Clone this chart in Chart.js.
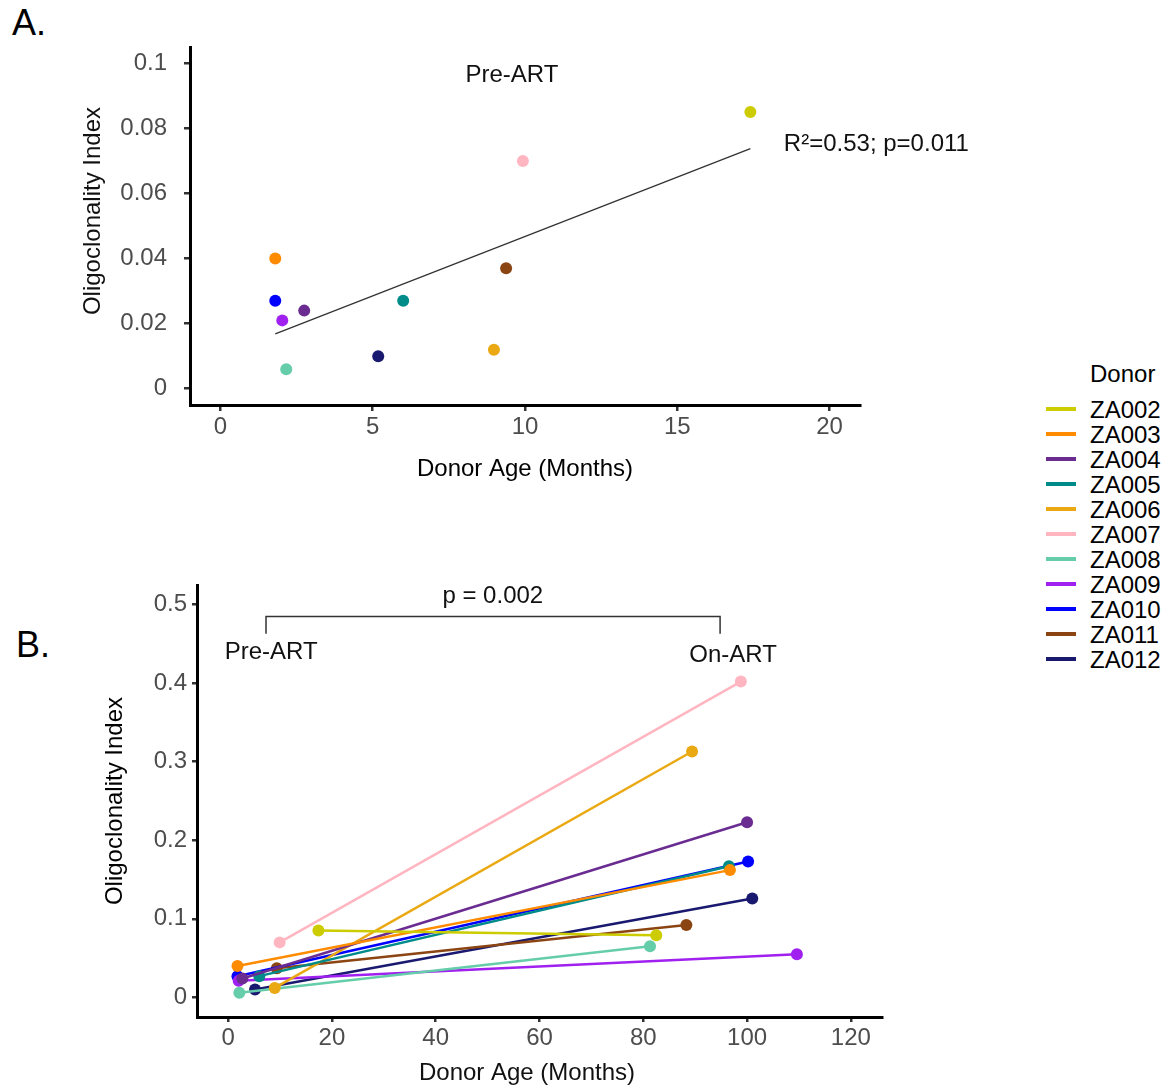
<!DOCTYPE html>
<html>
<head>
<meta charset="utf-8">
<script src="https://cdn.jsdelivr.net/npm/chart.js@4.4.1/dist/chart.umd.min.js"></script>
<style>
  body { margin: 0; background: #fff; font-family: "Liberation Sans", Arial, sans-serif; }
  #page { position: relative; width: 1166px; height: 1088px; overflow: hidden; }
  .wrap { position: absolute; }
  .tag { position: absolute; font-size: 36px; line-height: 36px; color: #000; }
  #legend { position: absolute; left: 1046px; top: 360px; font-size: 24px; color: #000; }
  #legend .ttl { position: absolute; left: 44px; top: 0; line-height: 28px; white-space: nowrap; }
  #legend .row { position: absolute; left: 0; height: 25px; width: 120px; }
  #legend .swatch { position: absolute; left: 0; top: 10px; width: 30px; height: 4px; }
  #legend .lbl { position: absolute; left: 44px; top: 0; line-height: 25px; }
</style>
</head>
<body>
<div id="page">
  <div class="tag" style="left:12px; top:5px;">A.</div>
  <div class="tag" style="left:16px; top:627px;">B.</div>
  <div class="wrap" style="left:0; top:0;"><canvas id="preChart" width="1000" height="500"></canvas></div>
  <div class="wrap" style="left:0; top:560px;"><canvas id="pairChart" width="900" height="528"></canvas></div>
  <div id="legend"></div>
</div>
<script>
// donors and their colours
const donors = ['ZA002', 'ZA003', 'ZA004', 'ZA005', 'ZA006', 'ZA007', 'ZA008', 'ZA009', 'ZA010', 'ZA011', 'ZA012'];
const donorColors = ['#cccc00', '#ff8c00', '#6a2c91', '#008b8b', '#eaa912', '#ffb6c1', '#66cdaa', '#a020f0', '#0000ff', '#8b4513', '#191970'];

// pre-ART sample: age (months) and oligoclonality index
const preAge = [17.4, 1.8, 2.75, 6.0, 8.98, 9.93, 2.16, 2.03, 1.8, 9.38, 5.18];
const preIndex = [0.085, 0.040, 0.024, 0.027, 0.012, 0.070, 0.006, 0.021, 0.027, 0.037, 0.010];

// on-ART sample
const onAge = [82.5, 96.7, 100.0, 96.5, 89.4, 98.8, 81.3, 109.6, 100.2, 88.3, 101.0];
const onIndex = [0.079, 0.162, 0.223, 0.167, 0.313, 0.402, 0.065, 0.055, 0.173, 0.092, 0.126];

// axis ticks
const xTicksA = [0, 5, 10, 15, 20];
const yTicksA = [0, 0.02, 0.04, 0.06, 0.08, 0.1];
const yLabelsA = ['0', '0.02', '0.04', '0.06', '0.08', '0.1'];
const xTicksB = [0, 20, 40, 60, 80, 100, 120];
const yTicksB = [0, 0.1, 0.2, 0.3, 0.4, 0.5];
const yLabelsB = ['0', '0.1', '0.2', '0.3', '0.4', '0.5'];

const FONT = '"Liberation Sans", Arial, sans-serif';
Chart.defaults.font.family = FONT;
Chart.defaults.font.size = 24;
Chart.defaults.color = '#4d4d4d';

// least-squares fit of index on age for the pre-ART panel
function linFit(xs, ys) {
    const n = xs.length;
    const mx = xs.reduce((a, b) => a + b, 0) / n;
    const my = ys.reduce((a, b) => a + b, 0) / n;
    let sxy = 0, sxx = 0;
    for (let i = 0; i < n; i++) {
        sxy += (xs[i] - mx) * (ys[i] - my);
        sxx += (xs[i] - mx) * (xs[i] - mx);
    }
    const slope = sxy / sxx;
    return { slope: slope, intercept: my - slope * mx };
}
const fit = linFit(preAge, preIndex);
const fitX = [Math.min(...preAge), Math.max(...preAge)];

function axis(opts) {
    return {
        type: 'linear',
        position: opts.position,
        min: opts.min,
        max: opts.max,
        afterBuildTicks: s => { s.ticks = opts.ticks.map(v => ({ value: v })); },
        afterFit: s => {
            if (opts.position === 'left') s.width = opts.size; else s.height = opts.size;
        },
        border: { display: true, color: '#000', width: 3 },
        grid: { drawOnChartArea: false, drawTicks: true, tickLength: opts.tickLength, color: '#333', lineWidth: 2.5 },
        ticks: {
            color: '#4d4d4d',
            font: { size: 24 },
            padding: opts.padding,
            maxRotation: 0,
            autoSkip: false,
            callback: (v, i) => opts.labels ? opts.labels[i] : String(v)
        },
        title: {
            display: !!opts.title,
            text: opts.title,
            color: '#000',
            font: { size: 24 },
            padding: opts.titlePad
        }
    };
}

function drawText(ctx, text, x, y, align, rotate) {
    ctx.save();
    ctx.fillStyle = '#111';
    ctx.font = '24px ' + FONT;
    ctx.textAlign = align || 'center';
    ctx.textBaseline = 'middle';
    ctx.translate(x, y);
    if (rotate) ctx.rotate(-Math.PI / 2);
    ctx.fillText(text, 0, 0);
    ctx.restore();
}

// PANEL A - pre-ART scatter with regression line
const preCtx = document.getElementById('preChart').getContext('2d');
const preSets = donors.map((d, i) => ({
    label: d,
    data: [{ x: preAge[i], y: preIndex[i] }],
    backgroundColor: donorColors[i],
    borderWidth: 0,
    pointRadius: 6
}));
preSets.push({
    label: 'fit',
    type: 'line',
    data: fitX.map(x => ({ x: x, y: fit.intercept + fit.slope * x })),
    borderColor: '#333',
    borderWidth: 1.3,
    pointRadius: 0,
    order: 1
});
new Chart(preCtx, {
    type: 'scatter',
    data: { datasets: preSets },
    options: {
        responsive: false,
        animation: false,
        layout: { padding: { top: 47, right: 140, left: 0, bottom: 0 } },
        plugins: { legend: { display: false }, tooltip: { enabled: false } },
        scales: {
            x: axis({ position: 'bottom', min: -1, max: 21, ticks: xTicksA, size: 95, tickLength: 6, padding: 2, title: 'Donor Age (Months)', titlePad: { top: 0, bottom: 16 } }),
            y: axis({ position: 'left', min: -0.005, max: 0.105, ticks: yTicksA, labels: yLabelsA, size: 190, tickLength: 6, padding: 17, title: '' })
        }
    },
    plugins: [{
        id: 'preNotes',
        afterDraw(chart) {
            const { ctx, scales: { x, y } } = chart;
            drawText(ctx, 'Oligoclonality Index', 93, 211, 'center', true);
            drawText(ctx, 'Pre-ART', x.getPixelForValue(9.57), y.getPixelForValue(0.0963));
            drawText(ctx, 'R\u00b2=0.53; p=0.011', x.getPixelForValue(18.5), y.getPixelForValue(0.0752), 'left');
        }
    }]
});

// PANEL B - paired pre/on-ART samples per donor
const pairCtx = document.getElementById('pairChart').getContext('2d');
new Chart(pairCtx, {
    type: 'scatter',
    data: {
        datasets: donors.map((d, i) => ({
            label: d,
            data: [{ x: preAge[i], y: preIndex[i] }, { x: onAge[i], y: onIndex[i] }],
            showLine: true,
            borderColor: donorColors[i],
            backgroundColor: donorColors[i],
            borderWidth: 2.5,
            pointBorderWidth: 0,
            pointRadius: 6
        }))
    },
    options: {
        responsive: false,
        animation: false,
        layout: { padding: { top: 25, right: 18, left: 0, bottom: 0 } },
        plugins: { legend: { display: false }, tooltip: { enabled: false } },
        scales: {
            x: axis({ position: 'bottom', min: -6, max: 126, ticks: xTicksB, size: 71, tickLength: 5, padding: 2, title: '' }),
            y: axis({ position: 'left', min: -0.025, max: 0.525, ticks: yTicksB, labels: yLabelsB, size: 197, tickLength: 5, padding: 5, title: 'Oligoclonality Index', titlePad: { top: 101, bottom: 0 } })
        }
    },
    plugins: [{
        id: 'pairNotes',
        afterDraw(chart) {
            const { ctx, scales: { x, y } } = chart;
            const x0 = x.getPixelForValue(7.3), x1 = x.getPixelForValue(94.8);
            const yb = y.getPixelForValue(0.485), ye = y.getPixelForValue(0.463);
            ctx.save();
            ctx.strokeStyle = '#333';
            ctx.lineWidth = 1.5;
            ctx.beginPath();
            ctx.moveTo(x0, ye);
            ctx.lineTo(x0, yb);
            ctx.lineTo(x1, yb);
            ctx.lineTo(x1, ye);
            ctx.stroke();
            ctx.restore();
            drawText(ctx, 'p = 0.002', x.getPixelForValue(51), y.getPixelForValue(0.510));
            drawText(ctx, 'Pre-ART', x.getPixelForValue(8.3), y.getPixelForValue(0.439));
            drawText(ctx, 'On-ART', x.getPixelForValue(97.3), y.getPixelForValue(0.435));
            drawText(ctx, 'Donor Age (Months)', 527, 513);
        }
    }]
});

// shared donor legend
const legend = document.getElementById('legend');
legend.innerHTML = '<div class="ttl">Donor</div>' + donors.map((d, i) =>
    '<div class="row" style="top:' + (37 + i * 25) + 'px">' +
    '<div class="swatch" style="background:' + donorColors[i] + '"></div>' +
    '<div class="lbl">' + d + '</div></div>'
).join('');
</script>
</body>
</html>
